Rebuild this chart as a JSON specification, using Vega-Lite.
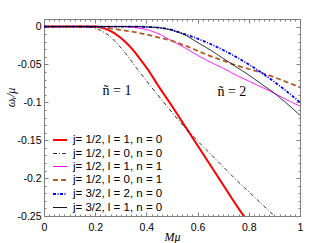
{
  "$schema": "https://vega.github.io/schema/vega-lite/v6.json",
  "width": 256,
  "height": 197,
  "autosize": {"type": "none"},
  "padding": {"left": 44, "top": 19, "right": 32, "bottom": 27},
  "background": "white",
  "config": {
    "view": {"stroke": "#808080", "strokeWidth": 1},
    "font": "Liberation Sans",
    "axis": {
      "grid": false,
      "domain": false,
      "tickColor": "#808080",
      "labelFont": "Liberation Sans",
      "labelFontSize": 10.5,
      "labelColor": "black",
      "titleFont": "Liberation Serif",
      "titleFontStyle": "italic",
      "titleFontWeight": "normal",
      "titleFontSize": 12,
      "titleColor": "black"
    },
    "legend": {
      "orient": "none",
      "legendX": 8,
      "legendY": 113,
      "padding": 0,
      "labelFont": "Liberation Sans",
      "labelFontSize": 11.5,
      "labelColor": "black",
      "symbolType": "stroke",
      "symbolSize": 196,
      "labelOffset": 5,
      "rowPadding": -4.2,
      "labelLimit": 200
    }
  },
  "datasets": {
    "curves": [
      {"s": "j= 1/2, l = 1, n = 0", "x": 0, "y": 0},
      {"s": "j= 1/2, l = 1, n = 0", "x": 0.15, "y": 0},
      {"s": "j= 1/2, l = 1, n = 0", "x": 0.2, "y": 0},
      {"s": "j= 1/2, l = 1, n = 0", "x": 0.22, "y": -0.001},
      {"s": "j= 1/2, l = 1, n = 0", "x": 0.24, "y": -0.003},
      {"s": "j= 1/2, l = 1, n = 0", "x": 0.26, "y": -0.006},
      {"s": "j= 1/2, l = 1, n = 0", "x": 0.28, "y": -0.010},
      {"s": "j= 1/2, l = 1, n = 0", "x": 0.30, "y": -0.015},
      {"s": "j= 1/2, l = 1, n = 0", "x": 0.32, "y": -0.021},
      {"s": "j= 1/2, l = 1, n = 0", "x": 0.34, "y": -0.028},
      {"s": "j= 1/2, l = 1, n = 0", "x": 0.36, "y": -0.036},
      {"s": "j= 1/2, l = 1, n = 0", "x": 0.38, "y": -0.045},
      {"s": "j= 1/2, l = 1, n = 0", "x": 0.40, "y": -0.054},
      {"s": "j= 1/2, l = 1, n = 0", "x": 0.45, "y": -0.080},
      {"s": "j= 1/2, l = 1, n = 0", "x": 0.50, "y": -0.105},
      {"s": "j= 1/2, l = 1, n = 0", "x": 0.55, "y": -0.131},
      {"s": "j= 1/2, l = 1, n = 0", "x": 0.60, "y": -0.157},
      {"s": "j= 1/2, l = 1, n = 0", "x": 0.65, "y": -0.183},
      {"s": "j= 1/2, l = 1, n = 0", "x": 0.70, "y": -0.209},
      {"s": "j= 1/2, l = 1, n = 0", "x": 0.75, "y": -0.235},
      {"s": "j= 1/2, l = 1, n = 0", "x": 0.78, "y": -0.25},

      {"s": "j= 1/2, l = 0, n = 0", "x": 0, "y": 0},
      {"s": "j= 1/2, l = 0, n = 0", "x": 0.12, "y": 0},
      {"s": "j= 1/2, l = 0, n = 0", "x": 0.16, "y": -0.0005},
      {"s": "j= 1/2, l = 0, n = 0", "x": 0.20, "y": -0.002},
      {"s": "j= 1/2, l = 0, n = 0", "x": 0.22, "y": -0.005},
      {"s": "j= 1/2, l = 0, n = 0", "x": 0.25, "y": -0.011},
      {"s": "j= 1/2, l = 0, n = 0", "x": 0.29, "y": -0.024},
      {"s": "j= 1/2, l = 0, n = 0", "x": 0.32, "y": -0.036},
      {"s": "j= 1/2, l = 0, n = 0", "x": 0.36, "y": -0.054},
      {"s": "j= 1/2, l = 0, n = 0", "x": 0.42, "y": -0.080},
      {"s": "j= 1/2, l = 0, n = 0", "x": 0.48, "y": -0.105},
      {"s": "j= 1/2, l = 0, n = 0", "x": 0.55, "y": -0.133},
      {"s": "j= 1/2, l = 0, n = 0", "x": 0.60, "y": -0.151},
      {"s": "j= 1/2, l = 0, n = 0", "x": 0.65, "y": -0.168},
      {"s": "j= 1/2, l = 0, n = 0", "x": 0.70, "y": -0.185},
      {"s": "j= 1/2, l = 0, n = 0", "x": 0.75, "y": -0.202},
      {"s": "j= 1/2, l = 0, n = 0", "x": 0.80, "y": -0.218},
      {"s": "j= 1/2, l = 0, n = 0", "x": 0.85, "y": -0.234},
      {"s": "j= 1/2, l = 0, n = 0", "x": 0.90, "y": -0.25},

      {"s": "j= 1/2, l = 1, n = 1", "x": 0, "y": 0},
      {"s": "j= 1/2, l = 1, n = 1", "x": 0.30, "y": 0},
      {"s": "j= 1/2, l = 1, n = 1", "x": 0.35, "y": -0.001},
      {"s": "j= 1/2, l = 1, n = 1", "x": 0.40, "y": -0.004},
      {"s": "j= 1/2, l = 1, n = 1", "x": 0.45, "y": -0.010},
      {"s": "j= 1/2, l = 1, n = 1", "x": 0.50, "y": -0.019},
      {"s": "j= 1/2, l = 1, n = 1", "x": 0.55, "y": -0.028},
      {"s": "j= 1/2, l = 1, n = 1", "x": 0.60, "y": -0.038},
      {"s": "j= 1/2, l = 1, n = 1", "x": 0.65, "y": -0.047},
      {"s": "j= 1/2, l = 1, n = 1", "x": 0.70, "y": -0.055},
      {"s": "j= 1/2, l = 1, n = 1", "x": 0.75, "y": -0.064},
      {"s": "j= 1/2, l = 1, n = 1", "x": 0.80, "y": -0.072},
      {"s": "j= 1/2, l = 1, n = 1", "x": 0.85, "y": -0.080},
      {"s": "j= 1/2, l = 1, n = 1", "x": 0.90, "y": -0.088},
      {"s": "j= 1/2, l = 1, n = 1", "x": 0.95, "y": -0.097},
      {"s": "j= 1/2, l = 1, n = 1", "x": 1.0, "y": -0.105},

      {"s": "j= 1/2, l = 0, n = 1", "x": 0, "y": 0},
      {"s": "j= 1/2, l = 0, n = 1", "x": 0.18, "y": 0},
      {"s": "j= 1/2, l = 0, n = 1", "x": 0.22, "y": -0.001},
      {"s": "j= 1/2, l = 0, n = 1", "x": 0.26, "y": -0.0025},
      {"s": "j= 1/2, l = 0, n = 1", "x": 0.30, "y": -0.0045},
      {"s": "j= 1/2, l = 0, n = 1", "x": 0.35, "y": -0.007},
      {"s": "j= 1/2, l = 0, n = 1", "x": 0.40, "y": -0.0105},
      {"s": "j= 1/2, l = 0, n = 1", "x": 0.45, "y": -0.0145},
      {"s": "j= 1/2, l = 0, n = 1", "x": 0.50, "y": -0.019},
      {"s": "j= 1/2, l = 0, n = 1", "x": 0.55, "y": -0.025},
      {"s": "j= 1/2, l = 0, n = 1", "x": 0.60, "y": -0.032},
      {"s": "j= 1/2, l = 0, n = 1", "x": 0.65, "y": -0.039},
      {"s": "j= 1/2, l = 0, n = 1", "x": 0.70, "y": -0.045},
      {"s": "j= 1/2, l = 0, n = 1", "x": 0.75, "y": -0.051},
      {"s": "j= 1/2, l = 0, n = 1", "x": 0.80, "y": -0.056},
      {"s": "j= 1/2, l = 0, n = 1", "x": 0.85, "y": -0.061},
      {"s": "j= 1/2, l = 0, n = 1", "x": 0.90, "y": -0.067},
      {"s": "j= 1/2, l = 0, n = 1", "x": 0.95, "y": -0.0735},
      {"s": "j= 1/2, l = 0, n = 1", "x": 1.0, "y": -0.080},

      {"s": "j= 3/2, l = 2, n = 0", "x": 0, "y": 0},
      {"s": "j= 3/2, l = 2, n = 0", "x": 0.35, "y": 0},
      {"s": "j= 3/2, l = 2, n = 0", "x": 0.40, "y": -0.0005},
      {"s": "j= 3/2, l = 2, n = 0", "x": 0.45, "y": -0.0015},
      {"s": "j= 3/2, l = 2, n = 0", "x": 0.50, "y": -0.0045},
      {"s": "j= 3/2, l = 2, n = 0", "x": 0.55, "y": -0.010},
      {"s": "j= 3/2, l = 2, n = 0", "x": 0.60, "y": -0.016},
      {"s": "j= 3/2, l = 2, n = 0", "x": 0.65, "y": -0.023},
      {"s": "j= 3/2, l = 2, n = 0", "x": 0.70, "y": -0.031},
      {"s": "j= 3/2, l = 2, n = 0", "x": 0.75, "y": -0.040},
      {"s": "j= 3/2, l = 2, n = 0", "x": 0.80, "y": -0.050},
      {"s": "j= 3/2, l = 2, n = 0", "x": 0.85, "y": -0.061},
      {"s": "j= 3/2, l = 2, n = 0", "x": 0.90, "y": -0.073},
      {"s": "j= 3/2, l = 2, n = 0", "x": 0.95, "y": -0.086},
      {"s": "j= 3/2, l = 2, n = 0", "x": 1.0, "y": -0.100},

      {"s": "j= 3/2, l = 1, n = 0", "x": 0, "y": 0},
      {"s": "j= 3/2, l = 1, n = 0", "x": 0.35, "y": 0},
      {"s": "j= 3/2, l = 1, n = 0", "x": 0.40, "y": -0.0005},
      {"s": "j= 3/2, l = 1, n = 0", "x": 0.45, "y": -0.0015},
      {"s": "j= 3/2, l = 1, n = 0", "x": 0.50, "y": -0.005},
      {"s": "j= 3/2, l = 1, n = 0", "x": 0.55, "y": -0.011},
      {"s": "j= 3/2, l = 1, n = 0", "x": 0.60, "y": -0.021},
      {"s": "j= 3/2, l = 1, n = 0", "x": 0.65, "y": -0.031},
      {"s": "j= 3/2, l = 1, n = 0", "x": 0.70, "y": -0.042},
      {"s": "j= 3/2, l = 1, n = 0", "x": 0.75, "y": -0.053},
      {"s": "j= 3/2, l = 1, n = 0", "x": 0.80, "y": -0.064},
      {"s": "j= 3/2, l = 1, n = 0", "x": 0.85, "y": -0.076},
      {"s": "j= 3/2, l = 1, n = 0", "x": 0.90, "y": -0.088},
      {"s": "j= 3/2, l = 1, n = 0", "x": 0.95, "y": -0.102},
      {"s": "j= 3/2, l = 1, n = 0", "x": 1.0, "y": -0.117}
    ],
    "notes": [
      {"label": "ñ = 1", "x": 0.285, "y": -0.0855},
      {"label": "ñ = 2", "x": 0.734, "y": -0.087}
    ]
  },
  "layer": [
    {
      "data": {"name": "curves"},
      "mark": {"type": "line", "clip": true, "interpolate": "monotone"},
      "encoding": {
        "x": {
          "field": "x", "type": "quantitative",
          "scale": {"domain": [0, 1], "nice": false, "zero": false},
          "axis": {
            "orient": "bottom",
            "title": "Mμ",
            "titleY": 20,
            "titleBaseline": "middle",
            "values": [0,0.02,0.04,0.06,0.08,0.1,0.12,0.14,0.16,0.18,0.2,0.22,0.24,0.26,0.28,0.3,0.32,0.34,0.36,0.38,0.4,0.42,0.44,0.46,0.48,0.5,0.52,0.54,0.56,0.58,0.6,0.62,0.64,0.66,0.68,0.7,0.72,0.74,0.76,0.78,0.8,0.82,0.84,0.86,0.88,0.9,0.92,0.94,0.96,0.98,1],
            "labelExpr": "abs(datum.value*5 - round(datum.value*5)) < 0.001 ? format(datum.value, '~g') : ''",
            "tickSize": {"condition": {"test": "abs(datum.value*5 - round(datum.value*5)) < 0.001", "value": -4}, "value": -2},
            "labelPadding": 10,
            "labelFlush": false,
            "labelOverlap": false
          }
        },
        "y": {
          "field": "y", "type": "quantitative",
          "scale": {"domain": [-0.25, 0.01], "nice": false, "zero": false},
          "axis": {
            "orient": "left",
            "title": "ωᵢ/μ",
            "titleX": -34,
            "titleY": 78,
            "titleAngle": 270,
            "titleBaseline": "middle",
            "titleAlign": "center",
            "values": [0.01,0,-0.01,-0.02,-0.03,-0.04,-0.05,-0.06,-0.07,-0.08,-0.09,-0.1,-0.11,-0.12,-0.13,-0.14,-0.15,-0.16,-0.17,-0.18,-0.19,-0.2,-0.21,-0.22,-0.23,-0.24,-0.25],
            "labelExpr": "abs(datum.value*20 - round(datum.value*20)) < 0.001 ? (abs(datum.value) < 0.0001 ? '0' : '-' + format(abs(datum.value), '~g')) : ''",
            "tickSize": {"condition": {"test": "abs(datum.value*20 - round(datum.value*20)) < 0.001", "value": -4}, "value": -2},
            "labelPadding": 7,
            "labelFlush": false,
            "labelOverlap": false
          }
        },
        "color": {
          "field": "s", "type": "nominal",
          "scale": {
            "domain": ["j= 1/2, l = 1, n = 0", "j= 1/2, l = 0, n = 0", "j= 1/2, l = 1, n = 1", "j= 1/2, l = 0, n = 1", "j= 3/2, l = 2, n = 0", "j= 3/2, l = 1, n = 0"],
            "range": ["#ff0000", "#000000", "#ff00ff", "#b05a28", "#0000ff", "#000000"]
          },
          "legend": {"title": null}
        },
        "strokeDash": {
          "field": "s", "type": "nominal",
          "scale": {
            "domain": ["j= 1/2, l = 1, n = 0", "j= 1/2, l = 0, n = 0", "j= 1/2, l = 1, n = 1", "j= 1/2, l = 0, n = 1", "j= 3/2, l = 2, n = 0", "j= 3/2, l = 1, n = 0"],
            "range": [[1, 0], [4, 2, 1, 2], [1, 0], [5, 3], [3, 1.5, 1, 1.5], [1, 0]]
          },
          "legend": {"title": null}
        },
        "strokeWidth": {
          "field": "s", "type": "nominal",
          "scale": {
            "type": "ordinal",
            "domain": ["j= 1/2, l = 1, n = 0", "j= 1/2, l = 0, n = 0", "j= 1/2, l = 1, n = 1", "j= 1/2, l = 0, n = 1", "j= 3/2, l = 2, n = 0", "j= 3/2, l = 1, n = 0"],
            "range": [2, 0.8, 1, 1.8, 1.8, 0.9]
          },
          "legend": {"title": null}
        }
      }
    },
    {
      "data": {"name": "notes"},
      "mark": {"type": "text", "font": "Liberation Serif", "fontSize": 14, "align": "center", "baseline": "middle"},
      "encoding": {
        "x": {
          "field": "x", "type": "quantitative",
          "scale": {"domain": [0, 1], "nice": false, "zero": false},
          "axis": {
            "orient": "top",
            "title": null,
            "labels": false,
            "values": [0,0.02,0.04,0.06,0.08,0.1,0.12,0.14,0.16,0.18,0.2,0.22,0.24,0.26,0.28,0.3,0.32,0.34,0.36,0.38,0.4,0.42,0.44,0.46,0.48,0.5,0.52,0.54,0.56,0.58,0.6,0.62,0.64,0.66,0.68,0.7,0.72,0.74,0.76,0.78,0.8,0.82,0.84,0.86,0.88,0.9,0.92,0.94,0.96,0.98,1],
            "tickSize": {"condition": {"test": "abs(datum.value*5 - round(datum.value*5)) < 0.001", "value": -4}, "value": -2}
          }
        },
        "y": {
          "field": "y", "type": "quantitative",
          "scale": {"domain": [-0.25, 0.01], "nice": false, "zero": false},
          "axis": {
            "orient": "right",
            "title": null,
            "labels": false,
            "values": [0.01,0,-0.01,-0.02,-0.03,-0.04,-0.05,-0.06,-0.07,-0.08,-0.09,-0.1,-0.11,-0.12,-0.13,-0.14,-0.15,-0.16,-0.17,-0.18,-0.19,-0.2,-0.21,-0.22,-0.23,-0.24,-0.25],
            "tickSize": {"condition": {"test": "abs(datum.value*20 - round(datum.value*20)) < 0.001", "value": -4}, "value": -2}
          }
        },
        "text": {"field": "label", "type": "nominal"}
      }
    }
  ],
  "resolve": {"axis": {"x": "independent", "y": "independent"}}
}
